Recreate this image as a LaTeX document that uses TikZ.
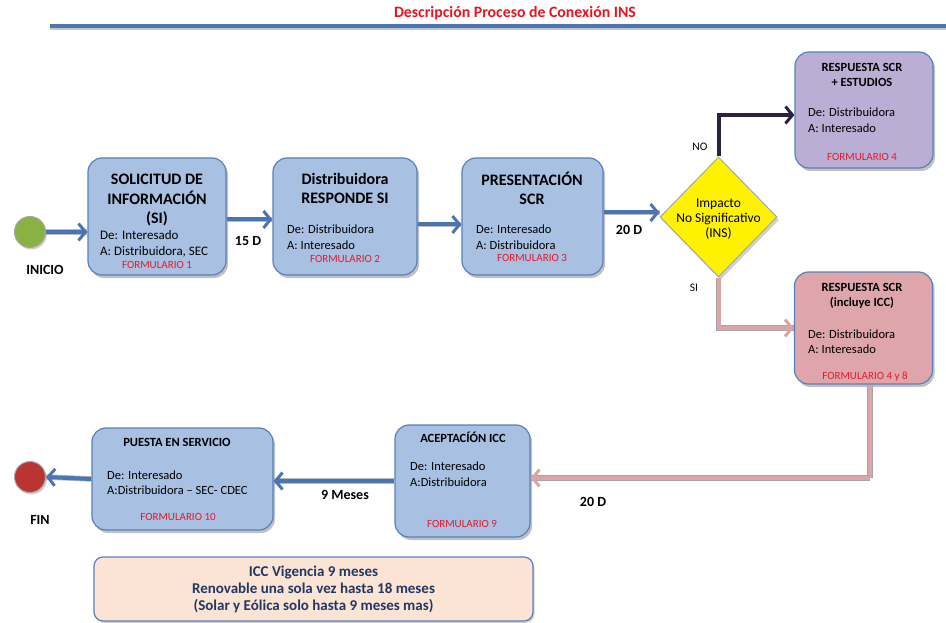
\documentclass[tikz,border=0pt]{standalone}
\usepackage{fontspec}
\setmainfont{Carlito}
\usetikzlibrary{arrows.meta,shapes.geometric,shadows}
\definecolor{boxblue}{RGB}{168,192,226}
\definecolor{boxedge}{RGB}{88,128,190}
\definecolor{boxpurple}{RGB}{186,174,212}
\definecolor{boxpink}{RGB}{222,166,170}
\definecolor{arrblue}{RGB}{74,116,178}
\definecolor{arrnavy}{RGB}{44,34,64}
\definecolor{arrpink}{RGB}{218,164,168}
\definecolor{startgreen}{RGB}{138,178,66}
\definecolor{endred}{RGB}{186,52,52}
\definecolor{titlered}{RGB}{232,20,30}
\definecolor{formred}{RGB}{232,24,40}
\definecolor{peach}{RGB}{252,228,212}
\definecolor{navytext}{RGB}{31,56,100}
\tikzset{
  procbox/.style={draw=boxedge, line width=1.2pt, rounded corners=14pt, fill=boxblue,
    drop shadow={shadow xshift=2pt, shadow yshift=-3pt, fill=gray!70, opacity=0.7}, inner sep=0},
  bigtitle/.style={font=\fontsize{16}{19.5}\selectfont\bfseries, align=center, text=black},
  smalltitle/.style={font=\fontsize{12.5}{15.5}\selectfont\bfseries, align=center, text=black},
  bodytext/.style={font=\fontsize{12.5}{15.5}\selectfont, align=left, anchor=base west, inner sep=0, text=black},
  formtext/.style={font=\fontsize{11}{13}\selectfont, text=formred, inner sep=0},
  labeltext/.style={font=\fontsize{14}{16}\selectfont\bfseries, text=black},
  bluearrow/.style={draw=arrblue, line width=4pt, -{Straight Barb[length=7pt,width=17pt,line width=3pt]},
    preaction={draw=gray!55, line width=5.5pt, -}},
  navyarrow/.style={draw=arrnavy, line width=4pt, -{Straight Barb[length=7pt,width=17pt,line width=3pt]}},
  pinkarrow/.style={draw=arrpink, line width=4pt, -{Straight Barb[length=7pt,width=17pt,line width=3pt]},
    preaction={draw=gray!70, line width=5.5pt, -}},
  pinkline/.style={draw=arrpink, line width=4pt, preaction={draw=gray!70, line width=5.5pt}},
}
\begin{document}
\begin{tikzpicture}[x=1pt,y=-1pt]
\useasboundingbox (0,0) rectangle (946,623);

% title
\node[font=\fontsize{15.8}{17}\selectfont\bfseries, text=titlered] (title) at (515,13) {Descripción Proceso de Conexión INS};
\fill[gray!45] (50,27.5) rectangle (946,30);
\fill[arrblue] (50,24) rectangle (946,28);

% start / end
\node[circle, draw=gray!70, line width=1pt, fill=startgreen, minimum size=31pt, inner sep=0,
  drop shadow={shadow xshift=1.5pt, shadow yshift=-2pt, fill=gray!60, opacity=0.6}] (ini) at (30,232) {};
\node[labeltext] (inilbl) at (45,270) {INICIO};
\node[circle, draw=gray!70, line width=1pt, fill=endred, minimum size=31pt, inner sep=0,
  drop shadow={shadow xshift=1.5pt, shadow yshift=-2pt, fill=gray!60, opacity=0.6}] (fin) at (30,477) {};
\node[labeltext] (finlbl) at (40,520) {FIN};

% box 1
\node[procbox, minimum width=138pt, minimum height=117pt] (b1) at (157,216.5) {};
\node[bigtitle] (b1t) at (157,200) {SOLICITUD DE\\INFORMACIÓN\\(SI)};
\node[bodytext, font=\fontsize{13}{16}\selectfont] (b1b) at (100,255) {De: Interesado\\A: Distribuidora, SEC};
\node[formtext] (b1f) at (157,265) {FORMULARIO 1};

% box 2
\node[procbox, minimum width=144pt, minimum height=117pt] (b2) at (345,216.5) {};
\node[bigtitle] (b2t) at (345,188.5) {Distribuidora\\RESPONDE SI};
\node[bodytext] (b2b) at (287,249) {De: Distribuidora\\A: Interesado};
\node[formtext] (b2f) at (345,259) {FORMULARIO 2};

% box 3
\node[procbox, minimum width=141pt, minimum height=117pt] (b3) at (532.5,216.5) {};
\node[bigtitle] (b3t) at (532,188.5) {PRESENTACIÓN\\SCR};
\node[bodytext] (b3b) at (476,249) {De: Interesado\\A: Distribuidora};
\node[formtext] (b3f) at (532,258) {FORMULARIO 3};

% diamond
\node[diamond, draw=gray!70, line width=1pt, fill=yellow, minimum width=117pt, minimum height=120pt, inner sep=0,
  drop shadow={shadow xshift=2pt, shadow yshift=-3pt, fill=gray!60, opacity=0.6}] (dia) at (718.5,217) {};
\node[font=\fontsize{13.5}{15}\selectfont, align=center] (diat) at (718.5,219) {Impacto\\No Significativo\\(INS)};

% box 4
\node[procbox, fill=boxpurple, minimum width=138pt, minimum height=116pt] (b4) at (864,110) {};
\node[smalltitle] (b4t) at (862,75) {RESPUESTA SCR\\+ ESTUDIOS};
\node[bodytext] (b4b) at (808,132.5) {De: Distribuidora\\A: Interesado};
\node[formtext] (b4f) at (862,157) {FORMULARIO 4};

% box 5
\node[procbox, fill=boxpink, minimum width=138pt, minimum height=112pt] (b5) at (863.5,328) {};
\node[smalltitle] (b5t) at (862,296) {RESPUESTA SCR\\(incluye ICC)};
\node[bodytext] (b5b) at (808,353.5) {De: Distribuidora\\A: Interesado};
\node[formtext] (b5f) at (865,377) {FORMULARIO 4 y 8};

% box 6
\node[procbox, minimum width=135pt, minimum height=112pt] (b6) at (462.5,481) {};
\node[smalltitle] (b6t) at (463,437) {ACEPTACÍÓN ICC};
\node[bodytext] (b6b) at (410,486) {De: Interesado\\A:Distribuidora};
\node[formtext] (b6f) at (462,524) {FORMULARIO  9};

% box 7
\node[procbox, minimum width=181pt, minimum height=102pt] (b7) at (182.5,479) {};
\node[smalltitle] (b7t) at (177,442) {PUESTA EN SERVICIO};
\node[bodytext] (b7b) at (107,494.5) {De: Interesado\\A:Distribuidora – SEC- CDEC};
\node[formtext] (b7f) at (178,517) {FORMULARIO  10};

% bottom note
\node[draw=boxedge, line width=1.2pt, fill=peach, rounded corners=9pt, minimum width=439pt, minimum height=64pt,
  drop shadow={shadow xshift=1.5pt, shadow yshift=-2pt, fill=gray!60, opacity=0.6},
  font=\fontsize{15}{17}\selectfont\bfseries, text=navytext, align=center] (note) at (313.5,589)
  {ICC Vigencia 9 meses\\Renovable una sola vez hasta 18 meses\\(Solar y Eólica solo hasta 9 meses mas)};

% connectors
\draw[bluearrow] (ini.east) -- (ini.east -| b1.west);
\draw[bluearrow] ([yshift=-3pt]b1.east) -- ([yshift=-3pt]b2.west);
\node[labeltext] (l15) at (248,241) {15 D};
\draw[bluearrow] ([yshift=-8pt]b2.east) -- ([yshift=-8pt]b3.west);
\draw[bluearrow] ([yshift=4pt]b3.east) -- ([yshift=4pt]b3.east -| dia.west);
\node[labeltext] (l20a) at (629,230) {20 D};

\draw[navyarrow] (dia.north) |- ([yshift=-5pt]b4.west);
\node[font=\fontsize{11.5}{13}\selectfont, text=black] (lno) at (700,147) {NO};
\draw[pinkarrow] (dia.south) |- (b5.west);
\node[font=\fontsize{11.5}{13}\selectfont, text=black] (lsi) at (694,288) {SI};

\coordinate (turn) at (870,478);
\draw[pinkline] (b5.south -| turn) -- (turn);
\draw[pinkarrow] (turn) -- (turn -| b6.east);
\node[labeltext] (l20b) at (593,502) {20 D};

\draw[bluearrow] (b6.west) -- (b6.west -| b7.east);
\node[labeltext] (l9m) at (345,495) {9 Meses};
\draw[bluearrow] (b7.west) -- (fin.east);
\end{tikzpicture}
\end{document}
